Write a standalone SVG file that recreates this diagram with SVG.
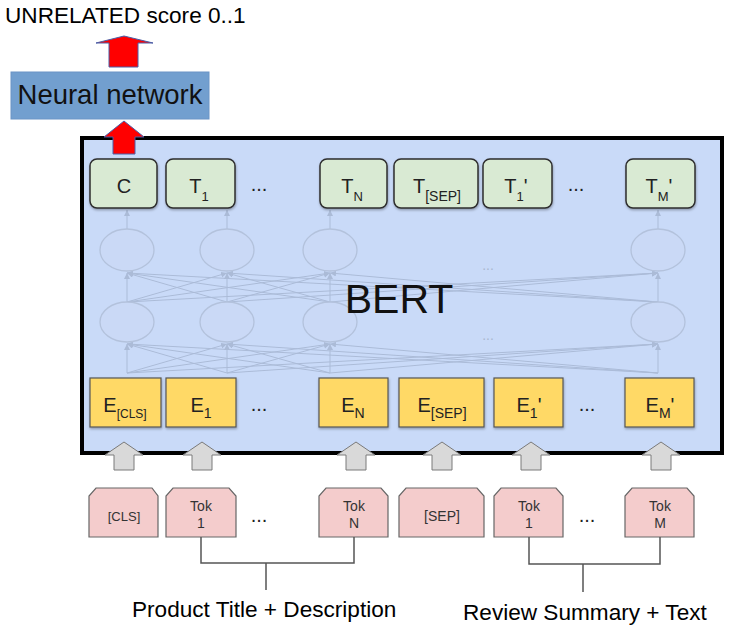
<svg xmlns="http://www.w3.org/2000/svg" xmlns:xlink="http://www.w3.org/1999/xlink" width="731" height="631" viewBox="0 0 731 631">
<style>
  text { font-family: "Liberation Sans", Arial, sans-serif; fill: #111; }
  .big { font-size: 22.6px; fill: #000; }
  .lbl { font-size: 20px; text-anchor: middle; fill: #222; }
  .sub { font-size: 13px; }
  .tok { font-size: 14px; text-anchor: middle; fill: #333; }
  .dots { font-size: 20px; text-anchor: middle; fill: #222; }
  .green { fill: #d9ead3; stroke: #2e2e2e; stroke-width: 1.5; filter: url(#sh); }
  .yellow { fill: #ffd966; stroke: #555; stroke-width: 1.2; filter: url(#sh); }
  .pink { fill: #f4cccc; stroke: #666; stroke-width: 1.2; }
  .gray { fill: #d9d9d9; stroke: #7a7a7a; stroke-width: 1; }
  .red { fill: #ff0000; stroke: #4a5fa8; stroke-width: 1; }
  .net { stroke: #a4b4d0; stroke-width: 1; fill: none; opacity: 0.8; }
  .ell { stroke: #b3c2dc; stroke-width: 1.3; fill: #cad9f6; }
  .br { stroke: #555; stroke-width: 1.5; fill: none; }
  .faint { font-size: 14px; fill: #aab8d0; text-anchor: middle; }
</style>
<defs>
  <filter id="sh" x="-10%" y="-10%" width="130%" height="140%">
    <feDropShadow dx="0.5" dy="1.5" stdDeviation="1" flood-color="#000" flood-opacity="0.3"/>
  </filter>
  <marker id="ah" markerUnits="userSpaceOnUse" markerWidth="8" markerHeight="8" refX="6" refY="3" orient="auto">
    <path d="M0,0 L6,3 L0,6 Z" fill="#a4b4d0"/>
  </marker>
  <path id="garrow" d="M0,0 L19,13 L10,13 L10,28 L-10,28 L-10,13 L-19,13 Z"/>
</defs>

<rect width="731" height="631" fill="#ffffff"/>

<!-- BERT container -->
<g id="bert">
  <rect x="82" y="138" width="640" height="315" fill="#c9daf8" stroke="#000" stroke-width="4"/>
</g>

<!-- faint network inside BERT -->
<g id="bert-internals">
  <g class="net" marker-end="url(#ah)">
    <line x1="127" y1="373" x2="127" y2="344"/>
    <line x1="127" y1="373" x2="227" y2="344"/>
    <line x1="127" y1="373" x2="330" y2="344"/>
    <line x1="127" y1="373" x2="658" y2="344"/>
    <line x1="227" y1="373" x2="127" y2="344"/>
    <line x1="227" y1="373" x2="227" y2="344"/>
    <line x1="227" y1="373" x2="330" y2="344"/>
    <line x1="227" y1="373" x2="658" y2="344"/>
    <line x1="330" y1="373" x2="127" y2="344"/>
    <line x1="330" y1="373" x2="227" y2="344"/>
    <line x1="330" y1="373" x2="330" y2="344"/>
    <line x1="330" y1="373" x2="658" y2="344"/>
    <line x1="658" y1="373" x2="127" y2="344"/>
    <line x1="658" y1="373" x2="227" y2="344"/>
    <line x1="658" y1="373" x2="330" y2="344"/>
    <line x1="658" y1="373" x2="658" y2="344"/>
    <line x1="127" y1="302" x2="127" y2="273"/>
    <line x1="127" y1="302" x2="227" y2="273"/>
    <line x1="127" y1="302" x2="330" y2="273"/>
    <line x1="127" y1="302" x2="658" y2="273"/>
    <line x1="227" y1="302" x2="127" y2="273"/>
    <line x1="227" y1="302" x2="227" y2="273"/>
    <line x1="227" y1="302" x2="330" y2="273"/>
    <line x1="227" y1="302" x2="658" y2="273"/>
    <line x1="330" y1="302" x2="127" y2="273"/>
    <line x1="330" y1="302" x2="227" y2="273"/>
    <line x1="330" y1="302" x2="330" y2="273"/>
    <line x1="330" y1="302" x2="658" y2="273"/>
    <line x1="658" y1="302" x2="127" y2="273"/>
    <line x1="658" y1="302" x2="227" y2="273"/>
    <line x1="658" y1="302" x2="330" y2="273"/>
    <line x1="658" y1="302" x2="658" y2="273"/>
    <line x1="127" y1="229" x2="127" y2="210"/>
    <line x1="227" y1="229" x2="227" y2="210"/>
    <line x1="330" y1="229" x2="330" y2="210"/>
    <line x1="658" y1="229" x2="658" y2="210"/>
  </g>
  <ellipse class="ell" cx="127" cy="250" rx="27" ry="21"/>
  <ellipse class="ell" cx="227" cy="250" rx="27" ry="21"/>
  <ellipse class="ell" cx="330" cy="250" rx="27" ry="21"/>
  <ellipse class="ell" cx="658" cy="250" rx="27" ry="21"/>
  <ellipse class="ell" cx="127" cy="322" rx="27" ry="20"/>
  <ellipse class="ell" cx="227" cy="322" rx="27" ry="20"/>
  <ellipse class="ell" cx="330" cy="322" rx="27" ry="20"/>
  <ellipse class="ell" cx="658" cy="322" rx="27" ry="20"/>
  <text class="faint" x="488" y="270">...</text>
  <text class="faint" x="488" y="340">...</text>
  <text x="399" y="313" style="font-size:41px;text-anchor:middle;fill:#111">BERT</text>
</g>

<!-- output (green) nodes -->
<g id="out-c"><rect class="green" x="90" y="159" width="67" height="49" rx="7"/><text class="lbl" x="124" y="193">C</text></g>
<g id="out-t1"><rect class="green" x="166" y="159" width="69" height="49" rx="7"/><text class="lbl" x="199" y="193">T<tspan class="sub" dy="7.5">1</tspan></text></g>
<g id="out-tn"><rect class="green" x="320" y="159" width="67" height="49" rx="7"/><text class="lbl" x="352" y="193">T<tspan class="sub" dy="7.5">N</tspan></text></g>
<g id="out-tsep"><rect class="green" x="394" y="159" width="84" height="49" rx="7"/><text class="lbl" x="437" y="193">T<tspan style="font-size:14px" dy="7.5">[SEP]</tspan></text></g>
<g id="out-t1p"><rect class="green" x="483" y="159" width="69" height="49" rx="7"/><text class="lbl" x="516" y="193">T<tspan class="sub" dy="7.5">1</tspan><tspan dy="-7.5">'</tspan></text></g>
<g id="out-tmp"><rect class="green" x="626" y="159" width="69" height="49" rx="7"/><text class="lbl" x="659" y="193">T<tspan class="sub" dy="7.5">M</tspan><tspan dy="-7.5">'</tspan></text></g>
<text class="dots" x="259" y="191">...</text>
<text class="dots" x="576" y="191">...</text>

<!-- embedding (yellow) nodes -->
<g id="emb-cls"><rect class="yellow" x="90" y="378" width="71" height="49"/><text class="lbl" x="125" y="412">E<tspan style="font-size:12px" dy="6">[CLS]</tspan></text></g>
<g id="emb-1"><rect class="yellow" x="166" y="378" width="70" height="49"/><text class="lbl" x="201" y="412">E<tspan style="font-size:14px" dy="6">1</tspan></text></g>
<g id="emb-n"><rect class="yellow" x="319" y="378" width="69" height="49"/><text class="lbl" x="353" y="412">E<tspan style="font-size:14px" dy="6">N</tspan></text></g>
<g id="emb-sep"><rect class="yellow" x="399" y="378" width="85" height="49"/><text class="lbl" x="442" y="412">E<tspan style="font-size:14px" dy="6">[SEP]</tspan></text></g>
<g id="emb-1p"><rect class="yellow" x="494" y="378" width="69" height="49"/><text class="lbl" x="529" y="412">E<tspan style="font-size:14px" dy="6">1</tspan><tspan dy="-6">'</tspan></text></g>
<g id="emb-mp"><rect class="yellow" x="625" y="378" width="69" height="49"/><text class="lbl" x="660" y="412">E<tspan style="font-size:14px" dy="6">M</tspan><tspan dy="-6">'</tspan></text></g>
<text class="dots" x="259" y="411">...</text>
<text class="dots" x="587" y="411">...</text>

<!-- token (pink) nodes -->
<g id="tok-cls"><path class="pink" d="M96,488 H152 L158,496 V537 H89 V496 Z"/><text class="tok" x="124" y="521" style="font-size:13px">[CLS]</text></g>
<g id="tok-1"><path class="pink" d="M173,488 H229 L236,496 V537 H166 V496 Z"/><text class="tok" x="201" y="511">Tok</text><text class="tok" x="201" y="528">1</text></g>
<g id="tok-n"><path class="pink" d="M326,488 H381 L388,496 V537 H319 V496 Z"/><text class="tok" x="354" y="511">Tok</text><text class="tok" x="354" y="528">N</text></g>
<g id="tok-sep"><path class="pink" d="M406,488 H477 L484,496 V537 H399 V496 Z"/><text class="tok" x="442" y="521">[SEP]</text></g>
<g id="tok-1p"><path class="pink" d="M501,488 H556 L563,496 V537 H494 V496 Z"/><text class="tok" x="529" y="511">Tok</text><text class="tok" x="529" y="528">1</text></g>
<g id="tok-mp"><path class="pink" d="M632,488 H687 L694,496 V537 H625 V496 Z"/><text class="tok" x="660" y="511">Tok</text><text class="tok" x="660" y="528">M</text></g>
<text class="dots" x="259" y="522">...</text>
<text class="dots" x="587" y="522">...</text>

<!-- neural network node -->
<g id="neural-network">
  <rect x="11" y="72" width="198" height="47" fill="#729fcf" stroke="#6a94c6" stroke-width="1"/>
  <text x="110" y="104" style="font-size:27.5px;text-anchor:middle;fill:#111">Neural network</text>
</g>

<!-- output label -->
<g id="score-label"><text class="big" x="5" y="23">UNRELATED score 0..1</text></g>

<!-- connectors -->
<g id="connectors">
  <path class="red" d="M124,36 L153,43 L138,43 L138,67 L109,67 L109,43 L96,43 Z"/>
  <path class="red" d="M124,121 L144,137 L135,137 L135,154 L113,154 L113,137 L104,137 Z"/>
  <use xlink:href="#garrow" class="gray" x="124" y="442"/>
  <use xlink:href="#garrow" class="gray" x="202" y="442"/>
  <use xlink:href="#garrow" class="gray" x="356" y="442"/>
  <use xlink:href="#garrow" class="gray" x="442" y="442"/>
  <use xlink:href="#garrow" class="gray" x="531" y="442"/>
  <use xlink:href="#garrow" class="gray" x="661" y="442"/>
  <path class="br" d="M201,537 V563 H354 V537 M266,563 V590"/>
  <path class="br" d="M529,537 V564 H660 V537 M583,564 V592"/>
</g>

<g id="group-labels">
  <text class="big" x="132" y="617">Product Title + Description</text>
  <text class="big" x="463" y="620">Review Summary + Text</text>
</g>
</svg>
